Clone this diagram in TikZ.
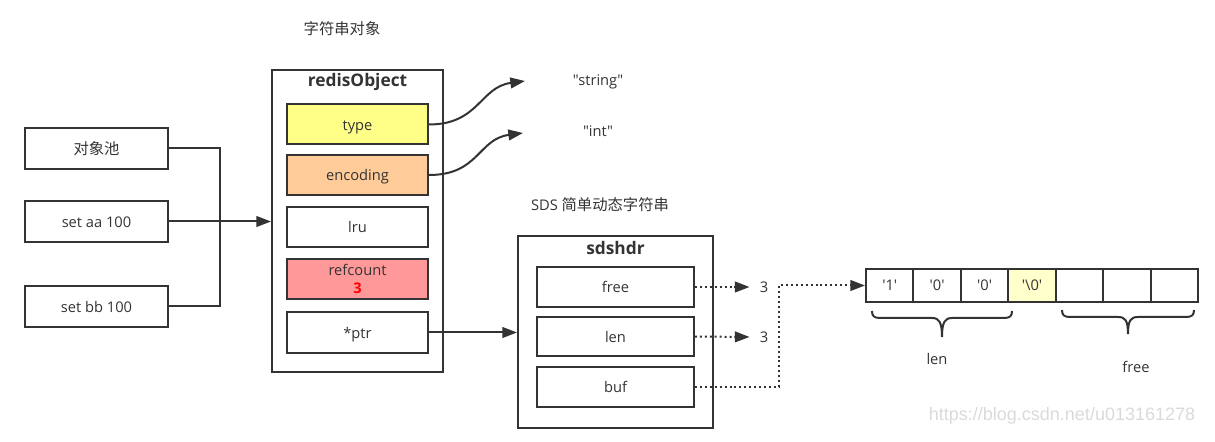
\documentclass[tikz,border=0pt]{standalone}
\usepackage{fontspec}
\setmainfont{Open Sans}
\newfontfamily\lat{Open Sans}
\newfontfamily\cjk{Noto Sans CJK SC}
\newfontfamily\wmfont{Liberation Sans}
\usetikzlibrary{arrows.meta,calc}
\definecolor{ln}{HTML}{333333}
\definecolor{cy}{HTML}{FFFF88}
\definecolor{co}{HTML}{FFCC99}
\definecolor{cr}{HTML}{FF9999}
\definecolor{cz}{HTML}{FFFFCC}
\definecolor{wmc}{HTML}{DADADA}
\begin{document}
\begin{tikzpicture}[x=0.75pt,y=-0.75pt,
  fld/.style={draw=ln,line width=1.5pt,text=ln,font=\fontsize{11}{13.5}\selectfont,inner sep=0pt,minimum width=105.75pt,minimum height=30pt,text height=10.6pt,text depth=2pt},
  lbox/.style={fld,minimum width=107.25pt,minimum height=30.75pt},
  ctr/.style={draw=ln,line width=1.5pt,inner sep=0pt},
  ttl/.style={text=ln,font=\fontsize{13}{15}\selectfont\bfseries,inner sep=0pt},
  lab/.style={text=ln,font=\fontsize{11}{13}\selectfont,inner sep=0pt},
  num/.style={lab,inner xsep=7.5pt},
  cell/.style={draw=ln,line width=1.5pt,text=ln,font=\fontsize{11}{13}\selectfont,inner sep=0pt,minimum width=35.57pt,minimum height=24.75pt,text height=10pt,text depth=2pt},
  arr/.style={draw=ln,line width=1.5pt,-{Triangle[length=11pt,width=8pt]}},
  darr/.style={arr,dash pattern=on 1.5pt off 2.2pt},
  brc/.style={draw=ln,line width=1.5pt},
  wm/.style={text=wmc,font=\wmfont\fontsize{13.5}{15}\selectfont,inner sep=0pt}
]
\path[use as bounding box] (0,0) rectangle (1215,442);

% title
\node[lab,font=\cjk\fontsize{11.5}{13}\selectfont] (t1) at (342,29) {字符串对象};

% redisObject
\node[ctr,minimum width=128.25pt,minimum height=226.5pt] (robj) at (357.5,221) {};
\node[ttl] (robjt) at (357.5,82) {redisObject};
\node[fld,fill=cy] (type) at (357.5,124.5) {type};
\node[fld,fill=co] (enc) at (357.5,175) {encoding};
\node[fld] (lru) at (357.5,227) {lru};
\node[fld,fill=cr,align=center,text height=,text depth=] (ref) at (357.5,279) {refcount\\{\color{red}\bfseries 3}};
\node[fld] (ptr) at (357.5,332.5) {*ptr};

% left boxes
\node[lbox,font=\cjk\fontsize{11.5}{13}\selectfont] (pool) at (96.5,148.5) {对象池};
\node[lbox] (saa) at (96.5,221.5) {set aa 100};
\node[lbox] (sbb) at (96.5,306.5) {set bb 100};
\coordinate (jn) at (220,221.5);
\draw[ln,line width=1.5pt] (pool.east) -| (jn);
\draw[ln,line width=1.5pt] (sbb.east) -| (jn);
\draw[arr] (saa.east) -- (saa.east -| robj.west);

% type / encoding values
\node[lab] (str) at (598,82) {\lat"string"};
\node[lab] (int) at (598,131) {\lat"int"};
\coordinate (strtip) at (525,81);
\coordinate (inttip) at (523,133);
\draw[arr] (type.east) .. controls +(50,0) and +(-45,6) .. (strtip);
\draw[arr] (enc.east) .. controls +(50,0) and +(-45,6) .. (inttip);

% SDS
\node[lab] (sdsl) at (600,205) {SDS {\cjk\fontsize{11.5}{13}\selectfont 简单动态字符串}};
\node[ctr,minimum width=146.25pt,minimum height=144pt] (sds) at (615.5,332) {};
\node[ttl] (sdst) at (615.5,248) {sdshdr};
\node[fld,minimum width=117.75pt] (free) at (615.5,287) {free};
\node[fld,minimum width=117.75pt,minimum height=29.25pt] (len) at (615.5,336.5) {len};
\node[fld,minimum width=117.75pt] (buf) at (615.5,387) {buf};
\draw[arr] (ptr.east) -- (ptr.east -| sds.west);

\node[num] (n1) at (764,287) {3};
\node[num] (n2) at (764,337) {3};
\draw[darr] (free.east) -- (n1.west);
\draw[darr] (len.east) -- (n2.west);

% buffer cells
\node[cell] (c1) at ({866+47.43*0.5},285.5) {\lat'1'};
\node[cell] (c2) at ({866+47.43*1.5},285.5) {\lat'0'};
\node[cell] (c3) at ({866+47.43*2.5},285.5) {\lat'0'};
\node[cell,fill=cz] (c4) at ({866+47.43*3.5},285.5) {\lat'\textbackslash 0'};
\node[cell] (c5) at ({866+47.43*4.5},285.5) {};
\node[cell] (c6) at ({866+47.43*5.5},285.5) {};
\node[cell] (c7) at ({866+47.43*6.5},285.5) {};

\coordinate (bx) at (779,387);
\draw[darr] (buf.east) -- (bx) |- (c1.west);

% braces
\draw[brc] (872,311) .. controls (872,316) and (874,318) .. (880,318) -- (932,318)
  .. controls (939,318) and (942,322) .. (942,337)
  .. controls (942,322) and (945,318) .. (952,318) -- (1004,318)
  .. controls (1010,318) and (1012,316) .. (1012,311);
\draw[brc] (1062,310) .. controls (1062,315) and (1064,317) .. (1070,317) -- (1118,317)
  .. controls (1125,317) and (1128,320) .. (1128,334)
  .. controls (1128,320) and (1131,317) .. (1138,317) -- (1186,317)
  .. controls (1192,317) and (1194,315) .. (1194,310);
\node[lab] (lenl) at (937,359) {len};
\node[lab] (freel) at (1136,367) {free};

% watermark
\node[wm] (wm) at (1062,416) {https://blog.csdn.net/u013161278};
\end{tikzpicture}
\end{document}
